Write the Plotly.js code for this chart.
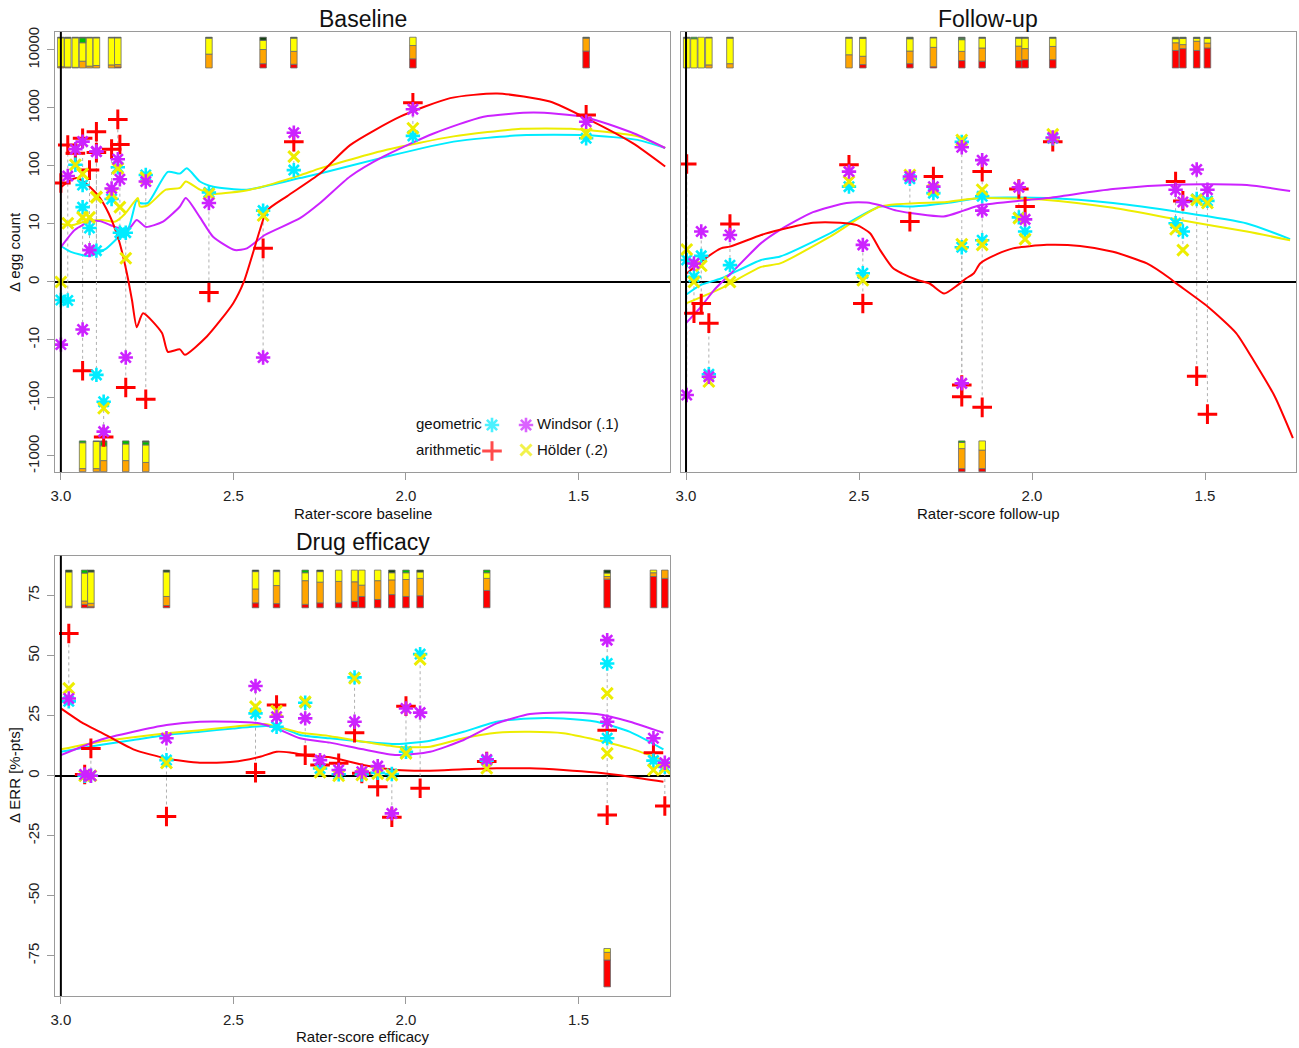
<!DOCTYPE html>
<html><head><meta charset="utf-8">
<script src="https://cdn.plot.ly/plotly-3.0.1.min.js"></script>
<style>html,body{margin:0;padding:0;background:#fff}#chart{width:1299px;height:1048px}</style>
</head><body><div id="chart"></div>
<script>
// ================= DATA =================
// ---- Baseline (y: egg count change, pseudo-log axis) ----
const baseX      = [3.000, 2.980, 2.958, 2.937, 2.937, 2.917, 2.897, 2.897, 2.876, 2.853, 2.835, 2.829, 2.812, 2.754, 2.571, 2.414, 2.325, 1.980, 1.478];
const baseArith  = [51, 230, 165, 300, -34, 85, 390, 170, -470, 195, 635, 235, -66, -105, -1.8, 5.8, 263, 1230, 760];
const baseGeom   = [-3.1, -3.2, 105, 47, 19.5, 9.3, 5.4, -40, -116, 27, 95, 8.5, 8.5, 70, 35, 17, 85, 330, 300];
const baseWinsor = [-12, 67, 195, 263, -8.2, 5.5, 177, 177, -380, 41, 131, 59, -20, 54, 23, -20, 375, 950, 580];
const baseHolder = [0, 10.3, 105, 73, 13, 13, 29, 29, -150, 33, 91, 19.5, 4.1, 63, 33, 14, 145, 447, 365];
const baseSide   = [1, 1, 1, 1, -1, 1, 1, -1, -1, 1, 1, 0, -1, -1, 1, 1, 1, 1, 1];
const baseBarRed    = [0, 0, 0, 0, 0, 0, 0, 0, 0, 0, 3, 0, 0, 0, 0, 14, 12, 30, 55];
const baseBarOrange = [4, 3, 2, 22, 10, 6, 8, 10, 36, 10, 8, 0, 36, 30, 45, 46, 42, 43, 42];
const baseBarYellow = [94, 94, 96, 60, 84, 92, 90, 88, 48, 88, 87, 0, 54, 57, 52, 30, 43, 27, 0];
const baseBarGreen  = [0, 0, 0, 16, 6, 0, 0, 0, 13, 0, 0, 0, 10, 10, 0, 0, 0, 0, 0];
const baseBarDark   = [2, 3, 2, 2, 0, 2, 2, 2, 3, 2, 2, 0, 0, 3, 3, 10, 3, 0, 3];

const baseRedCX = [3.0, 2.974, 2.954, 2.930, 2.890, 2.861, 2.832, 2.809, 2.794, 2.780, 2.762, 2.707, 2.690, 2.655, 2.641, 2.577, 2.501, 2.470, 2.423, 2.403, 2.345, 2.249, 2.162, 2.017, 1.872, 1.736, 1.583, 1.467, 1.342, 1.249];
const baseRedC  = [43, 56, 62, 52, 30, 15, 7.2, 1.6, -3.1, -7.8, -5.4, -8.8, -16, -14.5, -18, -9.4, -3.7, 0, 9, 17, 30, 74, 229, 708, 1480, 1780, 1290, 617, 245, 98];
const baseGeomCX = [3.0, 2.971, 2.917, 2.870, 2.832, 2.803, 2.780, 2.771, 2.748, 2.690, 2.655, 2.635, 2.597, 2.558, 2.461, 2.307, 2.249, 2.056, 1.862, 1.667, 1.474, 1.329, 1.249];
const baseGeomC  = [6.2, 5.2, 4.5, 5.7, 7.8, 9.5, 26, 23, 23, 79, 74, 91, 54, 44, 39, 62, 74, 145, 263, 339, 339, 282, 204];
const baseHolderCX = [3.0, 2.968, 2.930, 2.881, 2.842, 2.814, 2.777, 2.771, 2.748, 2.696, 2.655, 2.638, 2.597, 2.558, 2.452, 2.307, 2.249, 2.056, 1.862, 1.667, 1.522, 1.329, 1.249];
const baseHolderC  = [10, 9.8, 11, 11.7, 11, 15, 28, 20, 21, 39, 42, 54, 39, 33, 39, 69, 91, 190, 324, 437, 437, 324, 204];
const baseWinsorCX = [3.0, 2.959, 2.916, 2.887, 2.843, 2.806, 2.780, 2.754, 2.704, 2.655, 2.638, 2.597, 2.559, 2.496, 2.461, 2.409, 2.307, 2.249, 2.162, 2.066, 1.920, 1.775, 1.630, 1.485, 1.339, 1.249];
const baseWinsorC  = [6, 9, 11, 11.2, 9.5, 9, 11.7, 9.5, 11, 20, 28, 13, 7.8, 5.5, 5.8, 8.1, 12.6, 23, 66, 145, 363, 708, 832, 708, 363, 204];

// ---- Follow-up ----
const fuX      = [2.998, 2.977, 2.956, 2.934, 2.873, 2.529, 2.489, 2.353, 2.285, 2.203, 2.203, 2.144, 2.144, 2.038, 2.020, 1.940, 1.585, 1.564, 1.524, 1.493];
const fuArith  = [108, -5.4, -3.7, -7.1, 10, 105, -3.7, 11, 66, -60, -95, 80, -145, 40, 20, 263, 54, 25, -42, -190];
const fuGeom   = [3.8, 0.9, 4.5, -39, 2.9, 44, 1.5, 60, 34, 260, 6, 30, 7.2, 13, 8.7, 300, 10.3, 8.7, 27, 25];
const fuWinsor = [-89, 3.2, 8.7, -43, 8.1, 80, 6.4, 66, 44, 210, -56, 126, 17, 43, 12, 310, 39, 24, 87, 39];
const fuHolder = [5.6, 0, 2.8, -52, 0, 54, 0.3, 70, 39, 280, 6.5, 39, 6.4, 12.6, 7.4, 350, 9.1, 5.5, 26, 23];
const fuSide   = [1, 1, 1, 1, 1, 1, 1, 1, 1, 1, -1, 1, -1, 1, 1, 1, 1, 1, 1, 1];
const fuBarRed    = [0, 0, 0, 0, 0, 0, 11, 14, 4, 24, 10, 22, 10, 24, 27, 27, 57, 63, 57, 65];
const fuBarOrange = [0, 0, 0, 10, 14, 43, 27, 41, 63, 30, 65, 43, 60, 47, 36, 43, 25, 13, 30, 16];
const fuBarYellow = [97, 95, 100, 88, 83, 54, 58, 40, 31, 38, 20, 32, 30, 26, 34, 27, 13, 20, 9, 15];
const fuBarGreen  = [0, 5, 0, 0, 0, 0, 0, 0, 0, 5, 5, 0, 0, 0, 0, 0, 0, 0, 0, 0];
const fuBarDark   = [3, 0, 0, 2, 3, 3, 4, 5, 2, 3, 0, 3, 0, 3, 3, 3, 5, 4, 4, 4];

const fuRedCX = [2.997, 2.957, 2.899, 2.873, 2.783, 2.728, 2.633, 2.555, 2.506, 2.468, 2.439, 2.402, 2.376, 2.329, 2.295, 2.254, 2.214, 2.191, 2.168, 2.150, 2.101, 2.055, 1.957, 1.861, 1.766, 1.668, 1.601, 1.584, 1.491, 1.410, 1.355, 1.298, 1.246];
const fuRedC  = [1.5, 3.5, 5.8, 6.1, 8.1, 9, 10.5, 10.5, 9.8, 8.4, 5.5, 2.4, 1.5, 0.3, -0.3, -2, -0.5, 0.6, 1.5, 3.2, 4.8, 5.8, 6.4, 6.2, 5.2, 3.2, 0.6, -0.2, -4.3, -8.8, -25, -95, -490];
const fuGeomCX = [3.0, 2.957, 2.899, 2.783, 2.728, 2.584, 2.439, 2.344, 2.246, 2.150, 1.957, 1.766, 1.572, 1.379, 1.254];
const fuGeomC  = [-2.2, -0.5, 0.6, 3.8, 4.4, 8.4, 20, 20, 23, 28, 28, 23, 16, 10.2, 7.4];
const fuHolderCX = [3.0, 2.899, 2.783, 2.728, 2.584, 2.439, 2.246, 2.150, 1.957, 1.766, 1.572, 1.379, 1.254];
const fuHolderC  = [-3.7, -1.1, 2.6, 3.2, 7.8, 20, 24, 28, 26, 19, 11.7, 8.7, 7.2];
const fuWinsorCX = [3.0, 2.957, 2.919, 2.870, 2.783, 2.728, 2.633, 2.536, 2.478, 2.439, 2.391, 2.256, 2.198, 2.150, 1.957, 1.766, 1.572, 1.379, 1.254];
const fuWinsorC  = [-7.1, -4.3, -1.4, 1.5, 6.7, 9, 16, 23, 23.4, 21, 17, 13.5, 17, 21, 28, 40, 48, 47, 37];

// ---- Drug efficacy (y: ERR change, %-points) ----
const effX      = [2.977, 2.931, 2.913, 2.694, 2.436, 2.375, 2.292, 2.249, 2.195, 2.149, 2.128, 2.082, 2.041, 2.000, 1.959, 1.766, 1.417, 1.417, 1.283, 1.250];
const effArith  = [59.3, 0.5, 11.4, -17, 1.3, 29.5, 8.6, 4.5, 5.2, 17.9, 1.0, -4.6, -17.3, 29, -5.2, 5.9, 19, -16.4, 9.6, -12.6];
const effGeom   = [31, 0, 0, 6.5, 26, 20.4, 30.4, 3, 0.6, 41, 0.5, 1.2, 0.7, 10, 50.7, 6.3, 46.8, 15.6, 6.3, 3.7];
const effWinsor = [32.2, 0.5, 0, 15.6, 37.4, 24.6, 23.9, 6.5, 2.4, 22.5, 1.7, 4, -15.7, 28, 26.3, 6.8, 56.5, 22.5, 15.6, 5.4];
const effHolder = [36.4, 0, 0, 5.3, 28.8, 27, 30.8, 1.5, 0, 40.6, 0.3, 0.9, 0.2, 9.3, 48.5, 3.1, 34.3, 9.3, 2.4, 3];
const effSide   = [1, 1, 1, 1, 1, 1, 1, 1, 1, 1, 1, 1, 1, 1, 1, 1, 1, -1, 1, 1];
const effBarRed    = [0, 9, 3, 6, 13, 11, 9, 13, 13, 17, 30, 22, 35, 30, 32, 46, 76, 70, 83, 78];
const effBarOrange = [4, 9, 9, 24, 37, 48, 63, 55, 57, 52, 30, 50, 39, 45, 46, 32, 7, 20, 10, 22];
const effBarYellow = [91, 74, 83, 65, 46, 37, 21, 28, 30, 31, 40, 28, 19, 18, 17, 15, 9, 10, 7, 0];
const effBarGreen  = [0, 8, 0, 0, 0, 0, 7, 0, 0, 0, 0, 0, 0, 7, 0, 7, 0, 0, 0, 0];
const effBarDark   = [5, 0, 5, 5, 4, 4, 0, 4, 0, 0, 0, 0, 7, 0, 5, 0, 8, 0, 0, 0];

const effRedCX = [3.0, 2.935, 2.887, 2.790, 2.694, 2.597, 2.501, 2.423, 2.375, 2.336, 2.278, 2.220, 2.124, 2.027, 1.930, 1.833, 1.737, 1.641, 1.544, 1.448, 1.351, 1.254];
const effRedC  = [28.1, 21.8, 18.3, 11, 7.2, 5.4, 5.8, 7.9, 10, 9.7, 8.2, 7.7, 4.5, 2.4, 2.1, 2.7, 3.1, 3.1, 2.4, 1.3, -0.4, -2.5];
const effGeomCX = [3.0, 2.887, 2.790, 2.694, 2.597, 2.501, 2.404, 2.356, 2.307, 2.220, 2.124, 2.027, 1.930, 1.833, 1.737, 1.641, 1.544, 1.448, 1.351, 1.254];
const effGeomC  = [10, 12.8, 14.9, 17, 18.3, 19.7, 20.7, 19.7, 17, 15.6, 14.2, 13.2, 14.6, 18.3, 22.5, 23.9, 23.9, 22.5, 18.3, 11];
const effHolderCX = [3.0, 2.887, 2.790, 2.694, 2.597, 2.501, 2.404, 2.307, 2.220, 2.124, 2.027, 1.930, 1.833, 1.737, 1.641, 1.544, 1.448, 1.351, 1.254];
const effHolderC  = [11, 14.2, 16, 17.7, 19, 20.4, 21.5, 18, 16.5, 14.2, 12.1, 12.1, 15.6, 17.9, 18.3, 17.7, 14.9, 11.4, 6.5];
const effWinsorCX = [3.0, 2.887, 2.790, 2.694, 2.597, 2.501, 2.423, 2.375, 2.307, 2.220, 2.124, 2.027, 1.930, 1.833, 1.737, 1.641, 1.544, 1.448, 1.351, 1.254];
const effWinsorC  = [8.6, 14.9, 18.3, 21.1, 22.5, 22.5, 21.8, 19.7, 15.6, 13.8, 11, 8.6, 10, 14.9, 21.8, 25.7, 26.4, 25.7, 22.5, 17.9];

// tick labels
const xTickVals = [3.0, 2.5, 2.0, 1.5];
const xTickText = ['3.0', '2.5', '2.0', '1.5'];
const logTickVals = [-1000, -100, -10, 0, 10, 100, 1000, 10000];
const effTickVals = [-75, -50, -25, 0, 25, 50, 75];

// ================= DRAWING =================
const W = 1299, H = 1048;
const FONT = 'Liberation Sans, Arial, sans-serif';
const C = {arith: '#ff0000', geom: '#00ecff', winsor: '#cc22ff', holder: '#eded00'};
const BARCOL = ['#ff0000', '#ffa500', '#ffff00', '#00c000', '#124012'];

// pseudo-log transform: linear inside +-10, log10 outside
function tf(v) { const a = Math.abs(v); return a <= 10 ? v / 10 : Math.sign(v) * Math.log10(a); }
function ident(v) { return v; }

const traces = [];

function panel(P, xa, ya, f, barTop, barBot, barW) {
  // stacked bars
  const cats = [P.bR, P.bO, P.bY, P.bG, P.bD];
  const tot = P.x.map((_, i) => cats.reduce((s, a) => s + a[i], 0));
  const cum = P.x.map(() => 0);
  cats.forEach((arr, ci) => {
    const xs = [], ys = [], bs = [];
    arr.forEach((pct, i) => {
      const side = P.side[i];
      if (side && pct > 0) {
        const r = side > 0 ? barTop : barBot, h = r[1] - r[0];
        xs.push(P.x[i]); ys.push(pct / tot[i] * h); bs.push(r[0] + cum[i] / tot[i] * h);
      }
      cum[i] += pct;
    });
    traces.push({type: 'bar', x: xs, y: ys, base: bs, width: barW, xaxis: xa, yaxis: ya,
      marker: {color: BARCOL[ci], line: {color: '#6a6a6a', width: 0.8}}, hoverinfo: 'skip'});
  });
  // dotted connectors
  const cx = [], cy = [];
  P.x.forEach((x, i) => {
    const v = [P.a[i], P.g[i], P.w[i], P.h[i]].map(f);
    cx.push(x, x, null); cy.push(Math.min(...v), Math.max(...v), null);
  });
  traces.push({type: 'scatter', mode: 'lines', x: cx, y: cy, xaxis: xa, yaxis: ya,
    line: {color: '#b0b0b0', width: 1, dash: 'dot'}, hoverinfo: 'skip'});
  // smoother curves
  [[P.cgx, P.cg, C.geom], [P.chx, P.ch, C.holder], [P.cwx, P.cw, C.winsor], [P.cax, P.ca, C.arith]].forEach(([x, y, col]) => {
    traces.push({type: 'scatter', mode: 'lines', x: x, y: y.map(f), xaxis: xa, yaxis: ya,
      line: {color: col, width: 2, shape: 'spline', smoothing: 0.6}, hoverinfo: 'skip'});
  });
  // points
  const pts = [
    [P.a, C.arith, 'cross-thin', 14, 3],
    [P.g, C.geom, 'asterisk', 12, 2.6],
    [P.h, C.holder, 'x-thin', 11, 3],
    [P.w, C.winsor, 'asterisk', 12, 2.6]
  ];
  pts.forEach(([vals, col, sym, sz, lw]) => {
    traces.push({type: 'scatter', mode: 'markers', x: P.x, y: vals.map(f), xaxis: xa, yaxis: ya,
      marker: {symbol: sym, size: sz, color: col, line: {color: col, width: lw}}, hoverinfo: 'skip'});
  });
}

panel({x: baseX, a: baseArith, g: baseGeom, w: baseWinsor, h: baseHolder, side: baseSide,
  bR: baseBarRed, bO: baseBarOrange, bY: baseBarYellow, bG: baseBarGreen, bD: baseBarDark,
  cax: baseRedCX, ca: baseRedC, cgx: baseGeomCX, cg: baseGeomC, chx: baseHolderCX, ch: baseHolderC, cwx: baseWinsorCX, cw: baseWinsorC},
  'x', 'y', tf, [3.69, 4.22], [-3.27, -2.74], 0.019);
panel({x: fuX, a: fuArith, g: fuGeom, w: fuWinsor, h: fuHolder, side: fuSide,
  bR: fuBarRed, bO: fuBarOrange, bY: fuBarYellow, bG: fuBarGreen, bD: fuBarDark,
  cax: fuRedCX, ca: fuRedC, cgx: fuGeomCX, cg: fuGeomC, chx: fuHolderCX, ch: fuHolderC, cwx: fuWinsorCX, cw: fuWinsorC},
  'x2', 'y2', tf, [3.69, 4.22], [-3.27, -2.74], 0.019);
panel({x: effX, a: effArith, g: effGeom, w: effWinsor, h: effHolder, side: effSide,
  bR: effBarRed, bO: effBarOrange, bY: effBarYellow, bG: effBarGreen, bD: effBarDark,
  cax: effRedCX, ca: effRedC, cgx: effGeomCX, cg: effGeomC, chx: effHolderCX, ch: effHolderC, cwx: effWinsorCX, cw: effWinsorC},
  'x3', 'y3', ident, [70, 85.7], [-88, -72], 0.019);

// legend glyphs (overlay pixel axes)
const legNames = ['geometric', 'arithmetic', 'Windsor (.1)', 'Hölder (.2)'];
const legCols = [C.geom, C.arith, C.winsor, C.holder];
const legSyms = ['asterisk', 'cross-thin', 'asterisk', 'x-thin'];
const legSize = [12, 14, 12, 11];
const legPX = [492, 492, 526, 526], legPY = [425, 451, 425, 450];
traces.push({type: 'scatter', mode: 'markers', x: legPX, y: legPY, xaxis: 'x4', yaxis: 'y4',
  marker: {symbol: legSyms, size: legSize, color: legCols, line: {color: legCols, width: [2.6, 3, 2.6, 3]}}, hoverinfo: 'skip'});

const axCommon = {showline: true, mirror: true, linecolor: '#9a9a9a', linewidth: 1, ticks: 'outside', ticklen: 7,
  tickcolor: '#9a9a9a', tickwidth: 1, showgrid: false, zeroline: false, tickfont: {family: FONT, size: 15, color: '#222'}, fixedrange: true};
function xAx(dom, anchor, range) {
  return Object.assign({}, axCommon, {domain: dom, anchor: anchor, range: range, tickmode: 'array', tickvals: xTickVals, ticktext: xTickText, ticklabelstandoff: 3});
}
function yAx(dom, anchor, range, vals, texts) {
  return Object.assign({}, axCommon, {domain: dom, anchor: anchor, range: range, tickmode: 'array', tickvals: vals, ticktext: texts,
    tickangle: -90, zeroline: true, zerolinecolor: '#000', zerolinewidth: 2, ticklabelstandoff: 2});
}
const logVals = logTickVals.map(tf), logText = logTickVals.map(String);

const ann = [];
function txt(t, x, y, size, xanchor, angle) {
  ann.push({text: t, x: x, y: y, xref: 'x4', yref: 'y4', showarrow: false, xanchor: xanchor || 'center', yanchor: 'middle',
    textangle: angle || 0, font: {family: FONT, size: size, color: '#111'}});
}
txt('Baseline', 362.5, 19, 23);
txt('Follow-up', 988, 19, 23);
txt('Drug efficacy', 362.5, 542, 23);
txt('Rater-score baseline', 362.5, 513, 15);
txt('Rater-score follow-up', 988, 513, 15);
txt('Rater-score efficacy', 362.5, 1036, 15);
txt('Δ egg count', 14, 252, 15, 'center', -90);
txt('Δ ERR [%-pts]', 14, 775, 15, 'center', -90);
txt(legNames[0], 484, 423, 15, 'right');
txt(legNames[1], 484, 449, 15, 'right');
txt(legNames[2], 535, 423, 15, 'left');
txt(legNames[3], 535, 449, 15, 'left');

const shapes = ['x', 'x2', 'x3'].map((xa, i) => ({type: 'line', xref: xa, yref: ['y', 'y2', 'y3'][i] + ' domain',
  x0: 3.0, x1: 3.0, y0: 0, y1: 1, line: {color: '#000', width: 2}}));

const yFollow = yAx([1 - 472 / H, 1 - 32 / H], 'x2', [-3.276, 4.31], logVals, logText);
yFollow.showticklabels = false;
yFollow.ticks = '';

const layout = {
  width: W, height: H, margin: {l: 0, r: 0, t: 0, b: 0}, paper_bgcolor: '#fff', plot_bgcolor: 'rgba(0,0,0,0)',
  showlegend: false, barmode: 'overlay', font: {family: FONT, size: 15, color: '#222'},
  xaxis: xAx([55 / W, 670 / W], 'y', [3.017, 1.235]),
  yaxis: yAx([1 - 472 / H, 1 - 32 / H], 'x', [-3.276, 4.31], logVals, logText),
  xaxis2: xAx([681 / W, 1296 / W], 'y2', [3.0145, 1.237]),
  yaxis2: yFollow,
  xaxis3: xAx([55 / W, 670 / W], 'y3', [3.017, 1.235]),
  yaxis3: yAx([1 - 996 / H, 1 - 555.7 / H], 'x3', [-91.8, 91.7], effTickVals, effTickVals.map(String)),
  xaxis4: {domain: [0, 1], anchor: 'y4', range: [0, W], visible: false, fixedrange: true},
  yaxis4: {domain: [0, 1], anchor: 'x4', range: [H, 0], visible: false, fixedrange: true},
  annotations: ann, shapes: shapes
};
Plotly.newPlot('chart', traces, layout, {displayModeBar: false, staticPlot: true});
</script></body></html>
